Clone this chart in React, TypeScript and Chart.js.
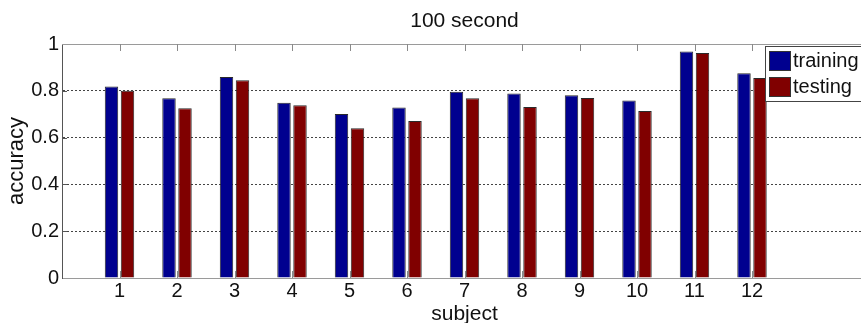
import React, { useEffect, useRef } from "react";
import { Chart, registerables } from "chart.js";

Chart.register(...registerables);

const subjects = [1, 2, 3, 4, 5, 6, 7, 8, 9, 10, 11, 12];
const training = [0.818, 0.768, 0.859, 0.749, 0.701, 0.729, 0.796, 0.788, 0.781, 0.759, 0.968, 0.875];
const testing = [0.800, 0.725, 0.845, 0.738, 0.640, 0.671, 0.768, 0.731, 0.769, 0.714, 0.962, 0.855];
const seriesNames = ["training", "testing"];
const seriesColors = ["#00008F", "#800000"];
const chartTitle = "100 second";
const xLabel = "subject";
const yLabel = "accuracy";
const yTickValues = [0, 0.2, 0.4, 0.6, 0.8, 1];

const FONT = "'Liberation Sans', Arial, sans-serif";

const decor = {
  id: "decor",
  afterDatasetsDraw(chart: any) {
    const { ctx, chartArea } = chart;
    const xs = chart.scales.x;
    const ys = chart.scales.y;
    ctx.save();
    ctx.strokeStyle = "#9a9a9a";
    ctx.lineWidth = 1;
    ctx.beginPath();
    ctx.moveTo(chartArea.left, Math.round(chartArea.top) + 0.5);
    ctx.lineTo(chartArea.right, Math.round(chartArea.top) + 0.5);
    ctx.stroke();
    ctx.strokeStyle = "#8a8a8a";
    for (const s of subjects) {
      const px = Math.round(xs.getPixelForValue(s)) + 0.5;
      ctx.beginPath();
      ctx.moveTo(px, chartArea.bottom);
      ctx.lineTo(px, chartArea.bottom - 7);
      ctx.moveTo(px, chartArea.top);
      ctx.lineTo(px, chartArea.top + 7);
      ctx.stroke();
    }
    ctx.strokeStyle = "#555";
    for (const v of yTickValues) {
      if (v === 0 || v === 1) continue;
      const py = Math.round(ys.getPixelForValue(v)) + 0.5;
      ctx.beginPath();
      ctx.moveTo(chartArea.left, py);
      ctx.lineTo(chartArea.left + 5, py);
      ctx.stroke();
    }
    ctx.restore();
  },
  afterDraw(chart: any) {
    const { ctx, chartArea } = chart;
    ctx.save();
    ctx.fillStyle = "#111";
    ctx.font = `21px ${FONT}`;
    ctx.textAlign = "center";
    ctx.textBaseline = "alphabetic";
    ctx.fillText(chartTitle, (chartArea.left + chartArea.right) / 2, 27);
    const bx = 765.5;
    const by = 46.5;
    ctx.fillStyle = "#fff";
    ctx.fillRect(bx, by, 200, 55);
    ctx.strokeStyle = "#444";
    ctx.lineWidth = 1;
    ctx.strokeRect(bx, by, 200, 55);
    chart.data.datasets.forEach((ds: any, i: number) => {
      const sy = 51 + i * 26;
      ctx.fillStyle = ds.backgroundColor;
      ctx.fillRect(769, sy, 22, 20);
      ctx.strokeStyle = "#333";
      ctx.strokeRect(769.5, sy + 0.5, 21, 19);
      ctx.fillStyle = "#111";
      ctx.font = `20px ${FONT}`;
      ctx.textAlign = "left";
      ctx.textBaseline = "middle";
      ctx.fillText(ds.label, 793, sy + 10);
    });
    ctx.restore();
  },
};

export default function App() {
  const ref = useRef<HTMLCanvasElement | null>(null);
  useEffect(() => {
    document.body.style.margin = "0";
    const canvas = ref.current;
    if (!canvas) return;
    const series = [training, testing];
    const chart = new Chart(canvas, {
      type: "bar",
      data: {
        datasets: series.map((vals, k) => ({
          label: seriesNames[k],
          data: subjects.map((s, i) => ({ x: s, y: vals[i] })),
          backgroundColor: seriesColors[k],
          borderColor: "#2a2a2a",
          borderWidth: 1,
          categoryPercentage: 0.5565,
          barPercentage: 0.84,
        })),
      },
      options: {
        animation: false,
        responsive: false,
        maintainAspectRatio: false,
        devicePixelRatio: 1,
        layout: { padding: { top: 44, left: 0, right: 0, bottom: 0 } },
        plugins: {
          legend: { display: false },
          title: { display: false },
          tooltip: { enabled: false },
        },
        scales: {
          x: {
            type: "linear",
            min: 0,
            max: 14,
            offset: false,
            grid: { display: false },
            border: { display: true, color: "#9a9a9a" },
            ticks: {
              stepSize: 1,
              autoSkip: false,
              maxRotation: 0,
              padding: -7,
              color: "#111",
              font: { family: FONT, size: 20 },
              callback: (v: any) => (subjects.includes(Number(v)) ? String(v) : ""),
            },
            title: {
              display: true,
              text: xLabel,
              color: "#111",
              font: { family: FONT, size: 21 },
              padding: { top: 0, bottom: 3 },
            },
            afterFit: (s: any) => {
              s.height = 52;
            },
          },
          y: {
            min: 0,
            max: 1,
            grid: {
              drawTicks: false,
              color: (c: any) =>
                c.tick && (c.tick.value === 0 || c.tick.value === 1) ? "rgba(0,0,0,0)" : "#444",
              lineWidth: 1,
            },
            border: { display: true, color: "#555", dash: [2, 2] },
            ticks: {
              stepSize: 0.2,
              padding: 3,
              color: "#111",
              font: { family: FONT, size: 20 },
              callback: (v: any) => String(Number(Number(v).toFixed(1))),
            },
            title: {
              display: true,
              text: yLabel,
              color: "#111",
              font: { family: FONT, size: 22 },
              padding: { top: 4, bottom: 0 },
            },
            afterFit: (s: any) => {
              s.width = 62;
            },
          },
        },
      },
      plugins: [decor],
    } as any);
    return () => chart.destroy();
  }, []);
  return (
    <div style={{ width: 861, height: 323, overflow: "hidden", position: "relative" }}>
      <canvas ref={ref} width={867} height={330} style={{ display: "block" }} />
    </div>
  );
}
